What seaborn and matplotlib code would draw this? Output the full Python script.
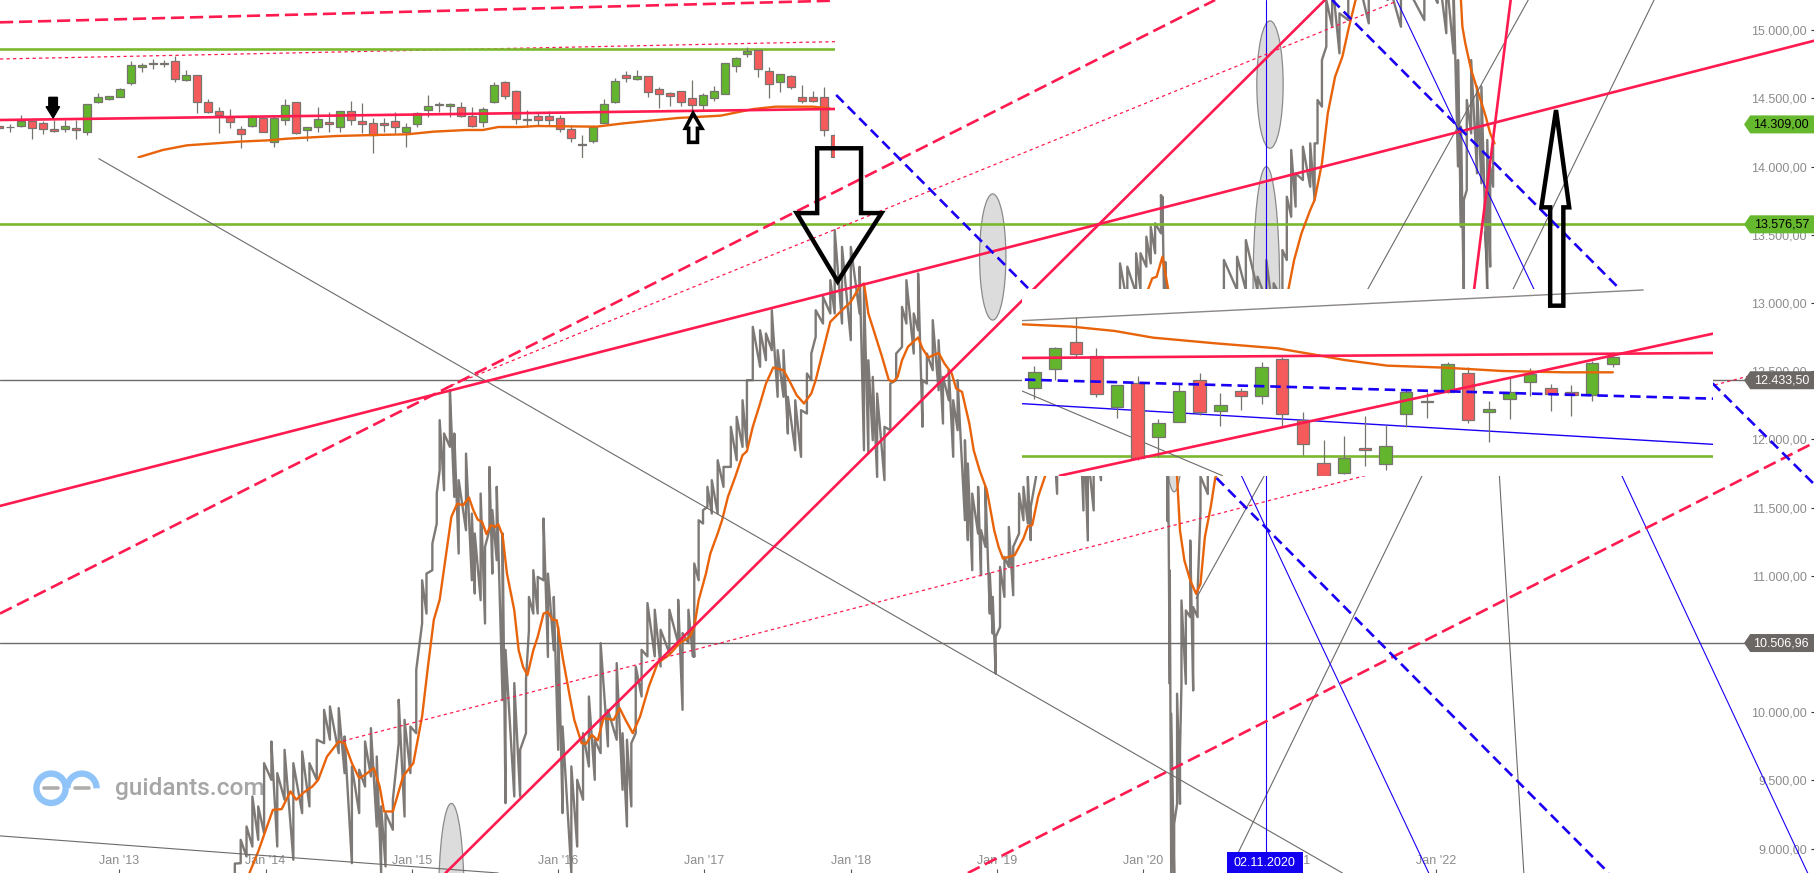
from matplotlib.patches import Arc, Ellipse, Polygon, Rectangle
import matplotlib.pyplot as plt
import numpy as np
import pandas as pd
import seaborn as sns

price_year = [
    2013.79, 2013.83, 2013.87, 2013.91, 2013.95, 2013.99, 2014.04, 2014.08, 2014.13, 2014.19, 2014.25, 2014.30,
    2014.35, 2014.40, 2014.44, 2014.50, 2014.54, 2014.59, 2014.64, 2014.68, 2014.72, 2014.76, 2014.79, 2014.82,
    2014.87, 2014.91, 2014.95, 2014.99, 2015.03, 2015.07, 2015.10, 2015.14, 2015.17, 2015.19, 2015.22, 2015.26,
    2015.29, 2015.32, 2015.37, 2015.41, 2015.43, 2015.47, 2015.50, 2015.53, 2015.55, 2015.58, 2015.62, 2015.64,
    2015.70, 2015.74, 2015.78, 2015.80, 2015.83, 2015.86, 2015.90, 2015.93, 2015.97, 2016.00, 2016.03, 2016.09,
    2016.13, 2016.17, 2016.21, 2016.25, 2016.29, 2016.34, 2016.40, 2016.44, 2016.47, 2016.50, 2016.53, 2016.57,
    2016.61, 2016.66, 2016.70, 2016.76, 2016.82, 2016.85, 2016.89, 2016.92, 2016.93, 2016.96, 2016.99, 2017.02,
    2017.05, 2017.09, 2017.13, 2017.18, 2017.22, 2017.26, 2017.29, 2017.33, 2017.38, 2017.42, 2017.46, 2017.50,
    2017.54, 2017.57, 2017.62, 2017.66, 2017.70, 2017.73, 2017.76, 2017.81, 2017.86, 2017.89, 2017.94, 2018.00,
    2018.06, 2018.09, 2018.12, 2018.15, 2018.18, 2018.23, 2018.27, 2018.31, 2018.35, 2018.38, 2018.43, 2018.46,
    2018.49, 2018.52, 2018.56, 2018.60, 2018.63, 2018.67, 2018.70, 2018.73, 2018.78, 2018.80, 2018.83, 2018.87,
    2018.89, 2018.92, 2018.95, 2018.97, 2018.99, 2019.02, 2019.05, 2019.08, 2019.11, 2019.15, 2019.18, 2019.21,
    2019.23, 2019.27, 2019.32, 2019.37, 2019.41, 2019.46, 2019.51, 2019.56, 2019.59, 2019.62, 2019.66, 2019.71,
    2019.76, 2019.80, 2019.84, 2019.89, 2019.95, 2019.98, 2020.02, 2020.05, 2020.08, 2020.12, 2020.13, 2020.15,
    2020.165, 2020.18, 2020.19, 2020.21, 2020.23, 2020.25, 2020.26, 2020.29, 2020.32, 2020.34, 2020.37, 2020.39,
    2020.44, 2020.50, 2020.53, 2020.55, 2020.64, 2020.70, 2020.78, 2020.84, 2020.89, 2020.95, 2020.98, 2021.01,
    2021.04, 2021.09, 2021.14, 2021.17, 2021.19, 2021.22, 2021.25, 2021.29, 2021.34, 2021.40, 2021.47, 2021.54,
    2021.67, 2021.76, 2021.92, 2022.01, 2022.07, 2022.12, 2022.15, 2022.17, 2022.19, 2022.21, 2022.24, 2022.28,
    2022.31, 2022.35, 2022.37, 2022.39,
]
price_high = [
    8890, 9064, 9162, 9382, 9309, 9626, 9785, 9553, 9724, 9626, 9712, 9626,
    9798, 10017, 10042, 10030, 9822, 9602, 9578, 9785, 9883, 9675, 9309, 9260,
    9358, 10091, 9944, 9895, 10311, 10967, 11016, 11236, 11603, 12141, 12043, 12360,
    12043, 11701, 11896, 11456, 11310, 11603, 11212, 11798, 11481, 11652, 11310, 10457,
    10213, 9724, 10237, 10845, 11041, 10992, 11420, 11016, 10845, 10625, 9895, 9602,
    9504, 9846, 10115, 9798, 10506, 10017, 10360, 9846, 9798, 9773, 10335, 10457,
    10800, 10751, 10604, 10751, 10824, 10580, 10751, 10604, 11090, 11407, 11481, 11652,
    11701, 11847, 11798, 12092, 12165, 12287, 12434, 12825, 12800, 12776, 12947, 12654,
    12654, 12312, 12287, 12214, 12483, 12629, 12947, 13045, 13167, 13534, 13411, 13411,
    13265, 13118, 12580, 12458, 12336, 12092, 12409, 12629, 12971, 13167, 12923, 13216,
    12434, 12629, 12874, 12727, 12458, 12507, 12287, 12434, 11994, 11823, 11603, 11652,
    11334, 11652, 11016, 10845, 10552, 11065, 11139, 11358, 11212, 11603, 11652, 11725,
    11505, 12300, 12400, 12300, 11900, 12400, 12500, 12300, 12200, 11900, 12100, 12100,
    12500, 12700, 13290, 13266, 13364, 13364, 13486, 13559, 13584, 13791, 13779, 13300,
    12400, 11039, 9988, 9182, 10135, 9719, 10819, 10746, 11259, 10770, 10868, 11728,
    11900, 12400, 12700, 13315, 13339, 13461, 13192, 13315, 13144, 13388, 13779, 14121,
    13950, 14146, 14170, 14170, 14488, 14781, 15221, 15368, 15123, 15294, 15368, 15343,
    15368, 15400, 15400, 15500, 15400, 15300, 14781, 14292, 13755, 14488, 14781, 14586,
    14586, 14195, 14001, 14170,
]
price_low = [
    8820, 8893, 8942, 9015, 9064, 9113, 9504, 9015, 9358, 8918, 9260, 9309,
    9504, 9773, 9798, 9700, 9553, 8893, 9260, 9455, 9529, 9162, 8822, 8869,
    9138, 9773, 9235, 9553, 9846, 10650, 10723, 11041, 11383, 11774, 11627, 11945,
    11578, 11163, 11334, 10967, 10870, 10821, 10650, 11334, 11016, 11114, 10088, 9333,
    9382, 9382, 9846, 10601, 10723, 10723, 10967, 10405, 10454, 9724, 9260, 8822,
    9015, 9358, 9602, 9504, 9700, 9749, 9798, 9431, 9162, 9309, 9846, 10115,
    10409, 10409, 10335, 10433, 10506, 10017, 10506, 10409, 10405, 10967, 11383, 11505,
    11456, 11456, 11652, 11798, 11847, 11945, 11945, 12434, 12532, 12580, 12654, 12312,
    12312, 12043, 11920, 11872, 12189, 12434, 12752, 12849, 12923, 12923, 12849, 12727,
    12923, 11920, 11896, 11994, 11725, 11701, 12067, 12434, 12678, 12849, 12629, 12800,
    12092, 12409, 12507, 12360, 12116, 12287, 11872, 12067, 11407, 11261, 11041, 11310,
    11004, 11212, 10723, 10576, 10283, 10625, 10845, 11065, 10857, 11310, 11407, 11383,
    11261, 11750, 11850, 11750, 11601, 11950, 12000, 11800, 11479, 11259, 11479, 11700,
    12000, 12250, 13095, 12990, 13070, 13095, 13266, 13290, 13364, 13510, 13559, 12400,
    11400, 10208, 8818, 8818, 9328, 9328, 10208, 10208, 10697, 10159, 10697, 11479,
    11600, 11900, 12200, 13095, 13095, 13095, 13095, 13021, 12900, 13021, 13315, 13632,
    13706, 13901, 13852, 13755, 14170, 14439, 14879, 15025, 14830, 15074, 15245, 15050,
    15221, 15025, 15074, 15200, 14977, 14830, 14001, 13559, 13021, 13828, 14243, 13950,
    13877, 13070, 13266, 13852,
]

# moving average
ma_year = [
    2013.89, 2013.95, 2014.05, 2014.11, 2014.17, 2014.21, 2014.26, 2014.32, 2014.36, 2014.42, 2014.50, 2014.54,
    2014.59, 2014.64, 2014.68, 2014.74, 2014.78, 2014.81, 2014.87, 2014.94, 2015.01, 2015.07, 2015.11, 2015.15,
    2015.19, 2015.27, 2015.31, 2015.35, 2015.39, 2015.42, 2015.45, 2015.48, 2015.51, 2015.54, 2015.57, 2015.59,
    2015.62, 2015.65, 2015.70, 2015.73, 2015.76, 2015.79, 2015.83, 2015.86, 2015.90, 2015.93, 2015.96, 2015.99,
    2016.03, 2016.08, 2016.11, 2016.16, 2016.19, 2016.23, 2016.27, 2016.31, 2016.38, 2016.42, 2016.46, 2016.51,
    2016.56, 2016.62, 2016.68, 2016.76, 2016.83, 2016.90, 2016.93, 2016.96, 2017.01, 2017.04, 2017.09, 2017.12,
    2017.16, 2017.21, 2017.26, 2017.29, 2017.33, 2017.38, 2017.42, 2017.47, 2017.54, 2017.59, 2017.63, 2017.68,
    2017.73, 2017.76, 2017.80, 2017.86, 2017.94, 2018.00, 2018.06, 2018.09, 2018.12, 2018.17, 2018.21, 2018.26,
    2018.29, 2018.32, 2018.35, 2018.39, 2018.46, 2018.49, 2018.53, 2018.60, 2018.64, 2018.69, 2018.72, 2018.76,
    2018.81, 2018.84, 2018.88, 2018.93, 2018.98, 2019.01, 2019.04, 2019.12, 2019.18, 2019.21, 2019.24, 2019.28,
    2019.33, 2019.45, 2019.60, 2019.75, 2019.90, 2020.03, 2020.06, 2020.09, 2020.13, 2020.17, 2020.20, 2020.23,
    2020.25, 2020.28, 2020.32, 2020.36, 2020.39, 2020.42, 2020.46, 2020.49, 2020.65, 2020.85, 2020.99, 2021.03,
    2021.08, 2021.14, 2021.17, 2021.22, 2021.26, 2021.31, 2021.36, 2021.40, 2021.45, 2021.70, 2022.00, 2022.17,
    2022.18, 2022.20, 2022.24, 2022.29, 2022.34, 2022.37, 2022.40,
]
ma_value = [
    8822, 8979, 9284, 9289, 9419, 9358, 9411, 9455, 9504, 9675, 9785, 9773,
    9626, 9516, 9541, 9590, 9455, 9272, 9272, 9529, 9626, 9969, 10335, 10677,
    10824, 11432, 11529, 11517, 11574, 11481, 11412, 11395, 11305, 11371, 11358, 11378,
    11297, 11016, 10747, 10454, 10332, 10273, 10454, 10552, 10723, 10735, 10679, 10674,
    10405, 10112, 9944, 9773, 9768, 9834, 9793, 9956, 9944, 10030, 9944, 9846,
    9969, 10189, 10360, 10421, 10506, 10552, 10625, 10821, 11016, 11163, 11310, 11407,
    11578, 11725, 11884, 11913, 12092, 12263, 12409, 12527, 12507, 12409, 12324, 12263,
    12336, 12434, 12605, 12862, 12947, 13008, 13118, 13143, 12923, 12752, 12617, 12434,
    12422, 12458, 12580, 12678, 12747, 12666, 12600, 12634, 12556, 12483, 12373, 12348,
    12116, 11920, 11774, 11627, 11334, 11212, 11126, 11151, 11273, 11363, 11371, 11578,
    11737, 12100, 12350, 12600, 12800, 13095, 13180, 13192, 13339, 13095, 12400, 11723,
    11332, 11112, 10966, 10868, 10941, 11284, 11504, 11711, 12300, 12900, 13095, 13315,
    13510, 13681, 13755, 14023, 14390, 14659, 14806, 15001, 15221, 15500, 15500, 15221,
    15025, 14903, 14708, 14537, 14366, 14243, 14170,
]

# trend lines, each as ([year, year], [price, price])
red_solid = [
    ([2012.185, 2024.59], [11512, 14924]),
    ([2015.23, 2021.24], [8821, 15221]),
    ([2022.26, 2022.51], [13099, 15221]),
]
red_dashed = [
    ([2012.185, 2020.49], [10723, 15221]),
    ([2018.80, 2024.59], [8821, 11979]),
]
red_dotted = [
    ([2014.53, 2024.13], [9789, 12462]),
    ([2015.23, 2021.73], [12378, 15212]),
]
gray_thin = [
    ([2012.86, 2021.36], [14058, 8821]),
    ([2012.185, 2015.59], [9093, 8821]),
    ([2020.58, 2023.49], [8821, 15221]),
    ([2020.36, 2022.63], [10833, 15221]),
    ([2022.33, 2022.60], [13523, 8821]),
]
blue_thin = [
    ([2020.67, 2021.95], [11733, 8821]),
    ([2021.73, 2022.67], [15221, 13099]),
    ([2023.27, 2024.54], [11733, 8821]),
    ([2020.84, 2020.84], [15221, 8821]),
]
blue_dashed = [
    ([2017.90, 2023.18], [14525, 8821]),
    ([2021.29, 2023.25], [15221, 13108]),
    ([2023.89, 2024.59], [12411, 11665]),
]
green_level = 13576.57
gray_levels = [12433.50, 10506.96]

# highlighted spots: year, price, width in years, height in price
spot_year = [2020.865, 2020.84, 2018.97, 2015.27, 2020.21]
spot_price = [14601, 13099, 13337, 8618, 12165]
spot_width = [0.18, 0.182, 0.18, 0.175, 0.13]
spot_height = [934, 1800, 925, 1426, 1100]

down_arrow_x = [2017.77, 2018.07, 2018.07, 2018.21, 2017.91, 2017.63, 2017.77]
down_arrow_y = [14134, 14134, 13659, 13659, 13158, 13659, 13659]
up_arrow_x = [2022.78, 2022.87, 2022.87, 2022.91, 2022.82, 2022.72, 2022.78]
up_arrow_y = [12980, 12980, 13701, 13701, 14414, 13701, 13701]

year_ticks = list(range(2013, 2023))
year_labels = ["Jan '13", "Jan '14", "Jan '15", "Jan '16", "Jan '17", "Jan '18", "Jan '19", "Jan '20", "Jan '21", "Jan '22"]
price_ticks = list(range(9000, 15001, 500))
price_labels = ["9.000,00", "9.500,00", "10.000,00", "10.500,00", "11.000,00", "11.500,00", "12.000,00",
                "12.500,00", "13.000,00", "13.500,00", "14.000,00", "14.500,00", "15.000,00"]

badge_price = [14309.00, 13576.57, 12433.50, 10506.96]
badge_text = ["14.309,00", "13.576,57", "12.433,50", "10.506,96"]

# first small panel (weekly candles, no scale of its own, unitless levels)
w_high = [522, 528, 554, 538, 538, 540, 540, 540, 588, 620, 612, 635, 717, 712, 722, 720, 733, 690, 674, 603,
          580, 572, 522, 555, 550, 555, 603, 595, 520, 580, 563, 568, 596, 590, 545, 545, 565, 530, 565, 615,
          595, 592, 593, 580, 578, 653, 657, 629, 570, 560, 568, 555, 525, 495, 525, 602, 665, 688, 690, 672,
          638, 625, 628, 660, 620, 642, 711, 728, 760, 750, 698, 678, 674, 645, 627, 638, 513]
w_low = [514, 505, 518, 482, 498, 504, 505, 482, 495, 590, 600, 610, 645, 685, 694, 700, 655, 657, 562, 560,
         502, 517, 455, 520, 505, 460, 525, 498, 478, 505, 505, 505, 525, 500, 440, 505, 500, 460, 520, 550,
         565, 550, 550, 518, 520, 590, 602, 528, 520, 525, 525, 505, 475, 427, 470, 530, 590, 655, 660, 610,
         575, 582, 582, 570, 570, 598, 619, 685, 730, 670, 607, 625, 632, 590, 595, 492, 428]
w_open = [521, 519, 523, 537, 530, 512, 512, 515, 505, 595, 602, 610, 650, 700, 711, 711, 716, 659, 674, 593,
          566, 550, 512, 521, 547, 473, 539, 593, 509, 520, 534, 520, 566, 536, 530, 530, 536, 505, 527, 569,
          586, 581, 580, 551, 533, 593, 653, 626, 542, 551, 551, 545, 512, 469, 478, 532, 593, 674, 662, 671,
          632, 621, 626, 605, 586, 607, 619, 703, 739, 749, 686, 655, 671, 608, 608, 608, 496]
w_close = [517, 518, 538, 515, 512, 507, 521, 509, 587, 608, 611, 633, 705, 705, 709, 707, 664, 674, 594, 563,
           556, 533, 499, 553, 505, 545, 584, 500, 518, 543, 527, 566, 539, 527, 495, 524, 518, 518, 560, 581,
           587, 587, 551, 523, 572, 644, 612, 542, 541, 541, 541, 513, 485, 466, 518, 587, 656, 667, 671, 625,
           617, 613, 595, 585, 614, 627, 710, 725, 747, 692, 649, 677, 638, 596, 598, 509, 430]
w_ma_x = [11.7, 13.9, 16.1, 20.8, 23.5, 25.2, 29.7, 33.1, 36.1, 38.5, 41.5, 43, 44.4, 46.4, 47.9, 53.3, 55.8,
          60.7, 64.6, 67.6, 69.6, 73, 74.5]
w_ma_y = [428, 450, 464, 475, 479, 484, 492, 495, 497, 505, 510, 510, 519, 519, 522, 520, 530, 546, 553, 573,
          580, 580, 575]

# second small panel
d_high = [402, 460, 548, 455, 345, 372, 242, 350, 380, 320, 335, 413, 428, 263, 180, 192, 252, 225, 330, 325,
          413, 398, 297, 365, 395, 348, 345, 417, 443]
d_low = [302, 360, 428, 310, 245, 120, 128, 235, 255, 222, 270, 288, 220, 135, 70, 78, 102, 90, 218, 246,
         320, 232, 174, 243, 313, 268, 253, 298, 398]
d_open = [337, 392, 473, 431, 280, 350, 190, 235, 359, 268, 326, 311, 422, 241, 110, 80, 155, 109, 259, 297,
          325, 382, 265, 304, 355, 335, 323, 314, 409]
d_close = [383, 455, 437, 317, 344, 125, 230, 326, 265, 284, 313, 398, 257, 167, 73, 125, 151, 161, 323, 295,
           407, 239, 272, 323, 378, 318, 314, 410, 428]
d_ma_x = [-0.6, 1.81, 3.89, 5.74, 8.75, 11.76, 13.38, 15, 17.08, 19.86, 22.64, 25.65, 28]
d_ma_y = [527, 520, 507, 487, 470, 455, 438, 420, 403, 397, 387, 383, 383]

RED = "#ff1a4f"
ORANGE = "#e8630a"
GREEN = "#7cb82f"
BLUE = "#1a00f5"
GRAY = "#6e6a68"
LABEL = "#8c8c8c"
XMIN, XMAX = 2012.185, 2024.59
YMIN, YMAX = 8821, 15221


def draw_line(ax, xs, ys, color, width, style="-", z=3):
    sns.lineplot(x=xs, y=ys, ax=ax, color=color, linewidth=width, linestyle=style,
                 estimator=None, sort=False, legend=False, zorder=z)


def draw_candles(ax, high, low, opens, closes, start, body):
    idx = np.arange(len(high)) + start
    ax.vlines(idx, low, high, color="#77736f", linewidth=0.9, zorder=2)
    for i, o, c in zip(idx, opens, closes):
        face = "#62b52c" if c >= o else "#f65b5b"
        ax.bar(i, abs(c - o), body, bottom=min(o, c), color=face, edgecolor="#77736f", linewidth=0.9, zorder=2.5)


def blank_panel(fig, x0, y0, x1, y1):
    # position given in picture rows, 873 tall
    ax = fig.add_axes([x0 / 1815, 1 - y1 / 873, (x1 - x0) / 1815, (y1 - y0) / 873], zorder=2)
    ax.set_facecolor("white")
    sns.despine(ax=ax, left=True, bottom=True)
    return ax


def main():
    sns.set_theme(style="white")
    plt.rcParams["font.family"] = ["Liberation Sans", "DejaVu Sans"]

    fig = plt.figure(figsize=(18.15, 8.73), dpi=100)
    ax = fig.add_axes([0, 0, 1, 1], zorder=1)

    # logo
    for cx, t1, t2 in [(2012.534, 45, 320), (2012.745, -60, 225)]:
        ax.add_patch(Arc((cx, 9442), 0.2, 215, theta1=t1, theta2=t2, color="#90c4f9", lw=4.6, zorder=1))
        ax.plot([cx - 0.045, cx + 0.045], [9442, 9442], color="#b0aeac", lw=2.6, zorder=1)
    ax.text(2012.97, 9442, "guidants.com", fontsize=17.6, family="Roboto", fontweight="medium", color="#a6a6a6",
            va="center", zorder=1)

    for x, y, w, h in zip(spot_year, spot_price, spot_width, spot_height):
        ax.add_patch(Ellipse((x, y), w, h, facecolor="#dcdcdc", edgecolor="#8a8a8a", linewidth=0.9, zorder=1.5))

    # the daily range as a high/low saw-tooth
    zig_x = np.repeat(price_year, 2)
    zig_y = np.column_stack([price_low, price_high]).ravel()
    table = pd.DataFrame({"year": zig_x, "price": zig_y})
    sns.lineplot(data=table, x="year", y="price", ax=ax, color="#7d7976", linewidth=1.7,
                 estimator=None, sort=False, legend=False, zorder=2)
    draw_line(ax, ma_year, ma_value, ORANGE, 1.7)

    for level in gray_levels:
        draw_line(ax, [XMIN, XMAX], [level, level], GRAY, 1.0, z=2.6)
    draw_line(ax, [XMIN, XMAX], [green_level, green_level], GREEN, 1.9, z=2.6)

    for xs, ys in gray_thin:
        draw_line(ax, xs, ys, GRAY, 0.8)
    for xs, ys in blue_thin:
        draw_line(ax, xs, ys, BLUE, 0.8)
    for xs, ys in red_solid:
        draw_line(ax, xs, ys, RED, 1.9)
    for xs, ys in red_dashed:
        draw_line(ax, xs, ys, RED, 1.9, style=(0, (5, 2.2)))
    for xs, ys in red_dotted:
        draw_line(ax, xs, ys, RED, 0.9, style=(0, (2.6, 2.6)))
    for xs, ys in blue_dashed:
        draw_line(ax, xs, ys, BLUE, 1.9, style=(0, (4, 2.2)))

    ax.set_xlim(XMIN, XMAX)
    ax.set_ylim(YMIN, YMAX)
    ax.set_xticks(year_ticks, year_labels)
    ax.set_yticks(price_ticks, price_labels)
    ax.set_xlabel("")
    ax.set_ylabel("")
    ax.tick_params(axis="x", bottom=True, direction="in", length=3, width=0.8, color="#555555",
                   pad=-4, labelsize=9, labelcolor=LABEL)
    ax.tick_params(axis="y", left=False, right=True, labelleft=False, labelright=True, direction="in",
                   length=3, width=0.8, color="#333333", pad=-6, labelsize=9, labelcolor=LABEL)
    for label in ax.get_yticklabels():
        label.set_ha("right")
    for label in ax.get_xticklabels():
        label.set_va("bottom")
    sns.despine(ax=ax, left=True, bottom=True)

    # weekly panel, top left
    top = blank_panel(fig, 0, 0, 835, 158)
    for xs, ys, col, lw, ls in [
        ([-0.887, 75], [833, 898], RED, 1.9, (0, (5, 2.2))),
        ([-0.887, 75], [723, 775], RED, 0.9, (0, (2.6, 2.6))),
        ([-0.887, 75], [752, 752], GREEN, 1.9, "-"),
    ]:
        draw_line(top, xs, ys, col, lw, style=ls, z=1)
    draw_candles(top, w_high, w_low, w_open, w_close, -1, 0.72)
    draw_line(top, w_ma_x, w_ma_y, ORANGE, 1.7)
    draw_line(top, [-0.887, 75], [540, 573], RED, 1.9)
    top.fill([3.55, 4.33, 4.33, 4.53, 3.94, 3.3, 3.55], [608, 608, 580, 580, 546, 580, 580],
             color="black", zorder=4)
    top.add_patch(Polygon(list(zip([61.7, 62.5, 62.5, 62.9, 62.1, 61.4, 61.7], [473, 473, 515, 515, 560, 515, 515])),
                          fill=False, edgecolor="black", linewidth=2.6, zorder=4))
    top.set_xlim(-0.887, 75)
    top.set_ylim(426, 900)
    top.set_xticks([])
    top.set_yticks([])
    top.set_xlabel("")
    top.set_ylabel("")

    # daily panel, middle right
    mid = blank_panel(fig, 1022, 289.3, 1713, 476)
    draw_line(mid, [-0.6, 32.85], [131, 131], GREEN, 1.9, z=1)
    draw_line(mid, [-0.6, 29.47], [538, 630], "#8a8684", 1.0, z=1)
    draw_line(mid, [-0.6, 9.1], [327, 73], GRAY, 0.8, z=1)
    draw_line(mid, [-0.6, 32.85], [289, 167], BLUE, 1.0, z=1)
    draw_candles(mid, d_high, d_low, d_open, d_close, 0, 0.6)
    draw_line(mid, d_ma_x, d_ma_y, ORANGE, 1.7)
    draw_line(mid, [-0.6, 32.85], [426, 441], RED, 1.9)
    draw_line(mid, [1.23, 32.85], [73, 499], RED, 1.9)
    draw_line(mid, [-0.46, 32.85], [361, 304], BLUE, 1.9, style=(0, (4, 2.2)))
    mid.set_xlim(-0.6, 32.85)
    mid.set_ylim(72, 632)
    mid.set_xticks([])
    mid.set_yticks([])
    mid.set_xlabel("")
    mid.set_ylabel("")

    # overlay on the main scale: large arrows, price badges, crosshair date
    top_ax = fig.add_axes([0, 0, 1, 1], zorder=3)
    top_ax.patch.set_alpha(0)
    top_ax.set_xlim(XMIN, XMAX)
    top_ax.set_ylim(YMIN, YMAX)
    top_ax.set_xticks([])
    top_ax.set_yticks([])
    sns.despine(ax=top_ax, left=True, bottom=True)
    for xs, ys in [(down_arrow_x, down_arrow_y), (up_arrow_x, up_arrow_y)]:
        top_ax.add_patch(Polygon(list(zip(xs, ys)), fill=False, edgecolor="black", linewidth=3.2, zorder=5))
    for i, (price, text) in enumerate(zip(badge_price, badge_text)):
        face = "#66b82e" if i < 2 else "#6b6765"
        ink = "black" if i < 2 else "white"
        shape = [(2024.105, price), (2024.147, price + 66), (XMAX, price + 66), (XMAX, price - 66), (2024.147, price - 66)]
        top_ax.add_patch(Polygon(shape, facecolor=face, edgecolor="none", zorder=6))
        top_ax.text(2024.55, price, text, color=ink, fontsize=9, ha="right", va="center", zorder=7)
    top_ax.add_patch(Rectangle((2020.57, YMIN), 0.52, 152, facecolor="#1400f0", edgecolor="none", zorder=6))
    top_ax.text(2020.83, YMIN + 76, "02.11.2020", color="white", fontsize=9, ha="center", va="center", zorder=7)

    fig.savefig("out.png", dpi=100)


if __name__ == "__main__":
    main()
